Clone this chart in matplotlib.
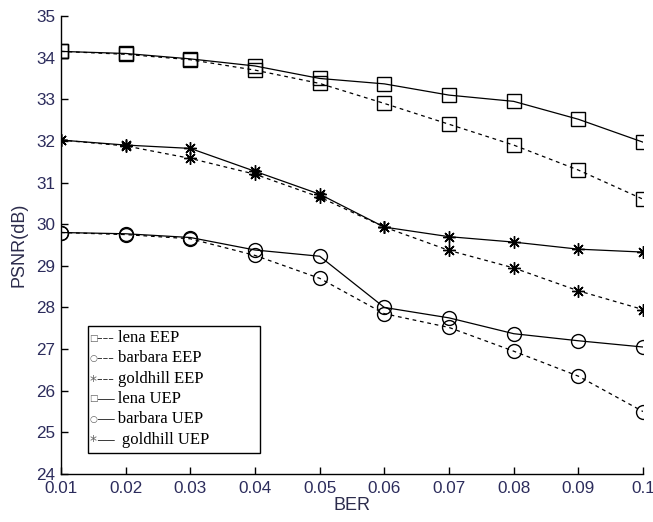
import numpy as np
import matplotlib.pyplot as plt
from matplotlib.patches import Rectangle

ber = [0.01, 0.02, 0.03, 0.04, 0.05, 0.06, 0.07, 0.08, 0.09, 0.1]

lena_eep = [34.15, 34.08, 33.95, 33.70, 33.38, 32.90, 32.40, 31.90, 31.30, 30.60]
barbara_eep = [29.80, 29.75, 29.65, 29.25, 28.70, 27.85, 27.52, 26.95, 26.35, 25.50]
goldhill_eep = [32.02, 31.88, 31.58, 31.20, 30.65, 29.93, 29.37, 28.95, 28.40, 27.95]
lena_uep = [34.15, 34.10, 33.97, 33.80, 33.50, 33.37, 33.10, 32.95, 32.52, 31.97]
barbara_uep = [29.80, 29.77, 29.68, 29.38, 29.23, 28.00, 27.75, 27.37, 27.20, 27.05]
goldhill_uep = [32.02, 31.90, 31.82, 31.27, 30.72, 29.93, 29.70, 29.57, 29.40, 29.33]

xtick_labels = ['0.01', '0.02', '0.03', '0.04', '0.05', '0.06', '0.07', '0.08', '0.09', '0.1']
legend_symbols = ['\u25a1', '\u25cb', '*', '\u25a1', '\u25cb', '*']
legend_texts = ['--- lena EEP', '--- barbara EEP', '--- goldhill EEP',
                '\u2014 lena UEP', '\u2014 barbara UEP', '\u2014  goldhill UEP']

W, H = 653, 522
fig = plt.figure(figsize=(W / 100, H / 100), dpi=100)
ax = fig.add_axes([61 / W, 1 - 474 / H, 582 / W, 458 / H])

star = (8, 2, 0)
kw = dict(color='black', lw=0.9, mfc='none', mec='black', mew=1.0)
ax.plot(ber, lena_eep, ls=(0, (3, 3)), marker='s', ms=10, **kw)
ax.plot(ber, barbara_eep, ls=(0, (3, 3)), marker='o', ms=10, **kw)
ax.plot(ber, goldhill_eep, ls=(0, (3, 3)), marker=star, ms=9, **kw)
ax.plot(ber, lena_uep, ls='-', marker='s', ms=10, **kw)
ax.plot(ber, barbara_uep, ls='-', marker='o', ms=10, **kw)
ax.plot(ber, goldhill_uep, ls='-', marker=star, ms=9, **kw)

ax.set_xlim(0.01, 0.1)
ax.set_ylim(24, 35)
ax.set_xticks(ber)
ax.set_xticklabels(xtick_labels)
ax.set_yticks(range(24, 36))
for s in ['top', 'right']:
    ax.spines[s].set_visible(False)
for s in ['left', 'bottom']:
    ax.spines[s].set_linewidth(1.0)
tick_color = '#2c2c5c'
ax.tick_params(direction='in', length=5, width=1.0, labelsize=12.3, labelcolor=tick_color)
ax.tick_params(axis='x', pad=5)
ax.tick_params(axis='y', pad=4)
for lab in ax.get_xticklabels() + ax.get_yticklabels():
    lab.set_family('Liberation Sans')

ax.set_xlabel('BER', fontsize=13, family='Liberation Sans', color='#2c2c4c', labelpad=1)
ax.set_ylabel('PSNR(dB)', fontsize=13, family='Liberation Sans', color='#2c2c4c', labelpad=6)

# legend drawn by hand: box with a small grey symbol and serif text per row
def px(x, y):
    return x / W, 1 - y / H

x0, y0 = px(88, 453)
fig.patches.append(Rectangle((x0, y0), 172 / W, 127 / H, transform=fig.transFigure,
                             fill=True, facecolor='white', edgecolor='black', lw=1.0, zorder=5))
for i, (sym, txt) in enumerate(zip(legend_symbols, legend_texts)):
    yc = 338 + i * 20.3
    size = 10 if sym == '*' else 6.5
    fig.text(*px(93.5, yc + (2 if sym == '*' else 0)), sym, ha='center', va='center',
             fontsize=size, color='#606060', family='DejaVu Sans', zorder=6)
    fig.text(*px(97, yc), txt, ha='left', va='center', fontsize=12,
             family='Liberation Serif', color='black', zorder=6)

fig.savefig('out.png', dpi=100)
